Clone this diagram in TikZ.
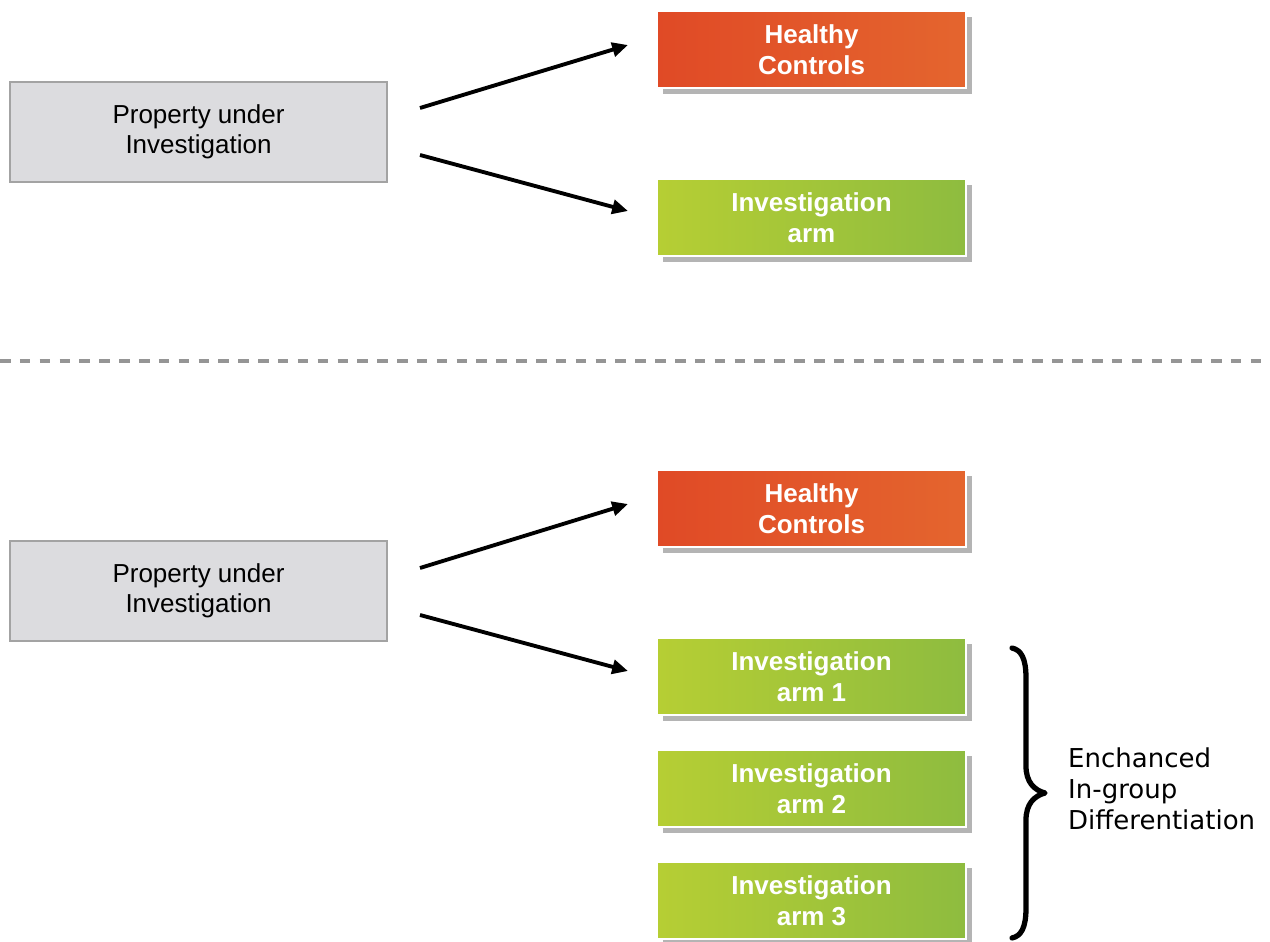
\documentclass[tikz,border=0pt]{standalone}
\usepackage{fontspec}
\setmainfont{Liberation Sans}
\newfontfamily\bracefont{DejaVu Sans}
\usetikzlibrary{arrows.meta,shadows}
\definecolor{hcL}{HTML}{E04A26}
\definecolor{hcR}{HTML}{E4652E}
\definecolor{gnL}{HTML}{B6CE34}
\definecolor{gnR}{HTML}{8EBC3F}
\definecolor{pfill}{HTML}{DCDCDF}
\definecolor{pdraw}{HTML}{A3A3A3}
\definecolor{shade}{HTML}{B4B4B4}
\definecolor{dashc}{HTML}{959595}
\begin{document}
\begin{tikzpicture}[x=0.02cm,y=-0.02cm,
  propbox/.style={draw=pdraw, line width=1pt, fill=pfill, minimum width=7.54cm, minimum height=2cm,
    align=center, inner sep=0pt, font=\fontsize{14.8}{17}\selectfont},
  colbox/.style={draw=white, line width=0.8pt, minimum width=6.18cm, minimum height=1.54cm,
    align=center, inner sep=0pt, text=white, font=\bfseries\fontsize{14.8}{17.5}\selectfont,
    drop shadow={shadow xshift=3.2pt, shadow yshift=-3.2pt, fill=shade, opacity=1}},
  redbox/.style={colbox, left color=hcL, right color=hcR},
  greenbox/.style={colbox, left color=gnL, right color=gnR},
  arr/.style={line width=2.2pt, -{Triangle[length=9pt,width=8pt]}},
  sep/.style={line width=2.8pt, draw=dashc, dash pattern=on 6pt off 5.3pt},
  bracestyle/.style={line width=3pt, line cap=round, line join=round}
]
\useasboundingbox (0,0) rectangle (1270,942);

% top part
\node[propbox] (pu1) at (198.5,132) {Property under\\Investigation};
\node[redbox] (hc1) at (811.5,49.5) {Healthy\\Controls};
\node[greenbox] (ia1) at (811.5,217.5) {Investigation\\arm};
\coordinate (s1a) at (420,108);
\coordinate (e1a) at (628,45);
\coordinate (s1b) at (420,155);
\coordinate (e1b) at (628,211);
\draw[arr] (s1a) -- (e1a);
\draw[arr] (s1b) -- (e1b);

% separator
\coordinate (sepL) at (0,361);
\coordinate (sepR) at (1270,361);
\draw[sep] (sepL) -- (sepR);

% bottom part
\node[propbox] (pu2) at (198.5,591) {Property under\\Investigation};
\node[redbox] (hc2) at (811.5,508.5) {Healthy\\Controls};
\node[greenbox] (arm1) at (811.5,676.5) {Investigation\\arm 1};
\node[greenbox] (arm2) at (811.5,788.5) {Investigation\\arm 2};
\node[greenbox] (arm3) at (811.5,900.5) {Investigation\\arm 3};
\coordinate (s2a) at (420,568);
\coordinate (e2a) at (628,504);
\coordinate (s2b) at (420,615);
\coordinate (e2b) at (628,671);
\draw[arr] (s2a) -- (e2a);
\draw[arr] (s2b) -- (e2b);

% brace
\draw[bracestyle] (1012,648) .. controls (1021,650) and (1026,658) .. (1026,678)
  -- (1026,766) .. controls (1026,782) and (1034,790) .. (1045,793)
  .. controls (1034,796) and (1026,804) .. (1026,820)
  -- (1026,908) .. controls (1026,928) and (1021,936) .. (1012,938);
\node[anchor=west, align=left, font=\bracefont\fontsize{14.8}{17.8}\selectfont] (lbl) at (1062,789)
  {Enchanced\\In-group\\Differentiation};
\end{tikzpicture}
\end{document}
